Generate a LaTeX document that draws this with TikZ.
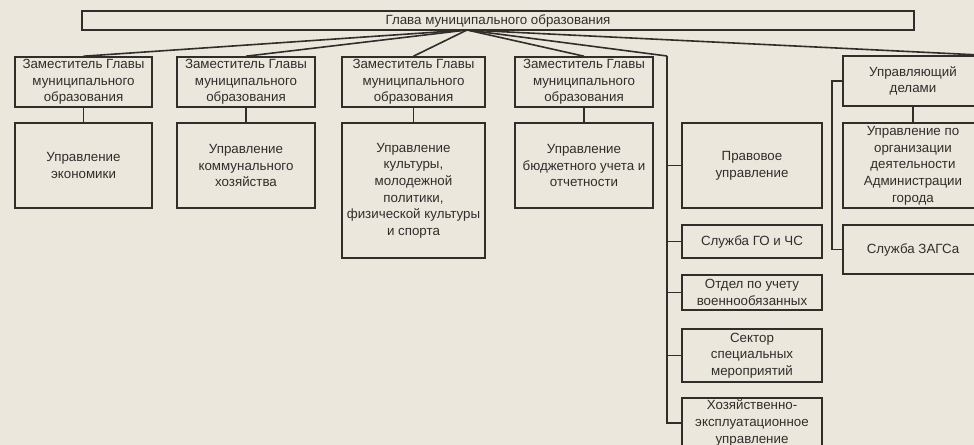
\documentclass[tikz,border=0pt]{standalone}
\usepackage{fontspec}
\setmainfont{Liberation Sans}
\definecolor{paper}{RGB}{236,231,221}
\definecolor{ink}{RGB}{48,46,43}
\tikzset{
  box/.style 2 args={draw=ink, line width=1.2pt, text=ink, align=center, inner sep=0pt,
    minimum width=#1*0.75pt, minimum height=#2*0.75pt, font=\fontsize{10}{12.5}\selectfont},
  link/.style={draw=ink, line width=1.2pt}
}

\begin{document}
\begin{tikzpicture}[x=0.75pt,y=0.75pt,yscale=-1,xscale=1]
\useasboundingbox (0,0) rectangle (974,445);
\clip (0,0) rectangle (974,445);
\fill [paper] (0,0) rectangle (974,445);

% Head
\node [box={832}{19}] (glava) at (498,20.5) {Глава муниципального образования};
% Deputies
\node [box={137}{50}] (zam1) at (83.5,82) {Заместитель Главы\\муниципального\\образования};
\node [box={138}{50}] (zam2) at (246,82) {Заместитель Главы\\муниципального\\образования};
\node [box={143}{50}] (zam3) at (413.5,82) {Заместитель Главы\\муниципального\\образования};
\node [box={138}{50}] (zam4) at (584,82) {Заместитель Главы\\муниципального\\образования};
\node [box={140}{50}] (delami) at (913,81) {Управляющий\\делами};
% Departments
\node [box={137}{85}] (econ) at (83.5,165.5) {Управление\\экономики};
\node [box={138}{85}] (komm) at (246,165.5) {Управление\\коммунального\\хозяйства};
\node [box={143}{135}] (kult) at (413.5,190.5) {Управление\\культуры,\\молодежной\\политики,\\физической культуры\\и спорта};
\node [box={138}{85}] (budg) at (584,165.5) {Управление\\бюджетного учета и\\отчетности};
% Services column
\node [box={140}{85}] (prav) at (752,165.5) {Правовое\\управление};
\node [box={140}{33}] (gochs) at (752,241.5) {Служба ГО и ЧС};
\node [box={140}{35}] (voen) at (752,292.5) {Отдел по учету\\военнообязанных};
\node [box={140}{53}] (sektor) at (752,355.5) {Сектор\\специальных\\мероприятий};
\node [box={140}{50}] (hoz) at (752,423) {Хозяйственно-\\эксплуатационное\\управление};
% Right column
\node [box={140}{85}] (org) at (913,165.5) {Управление по\\организации\\деятельности\\Администрации\\города};
\node [box={140}{49}] (zags) at (913,249.5) {Служба ЗАГСа};

\coordinate (hub) at (467,30);
\coordinate (spine) at (667,56);

% Fan from head
\draw [link] (hub) -- (zam1.north);
\draw [link] (hub) -- (zam2.north);
\draw [link] (hub) -- (zam3.north);
\draw [link] (hub) -- (zam4.north);
\draw [link] (hub) -- (spine);
\draw [link] (hub) -- (delami.north east);

% Deputy to department
\draw [link] (zam1) -- (econ);
\draw [link] (zam2) -- (komm);
\draw [link] (zam3.south) -- (zam3.south |- kult.north);
\draw [link] (zam4) -- (budg);
\draw [link] (delami) -- (org);

% Spine of services
\draw [link] (spine) |- (hoz.west);
\foreach \s in {prav,gochs,voen,sektor}
  \draw [link] (spine |- \s.west) -- (\s.west);
\draw [link] (delami.west) -- ++(-10,0) |- (zags.west);

\end{tikzpicture}
\end{document}
